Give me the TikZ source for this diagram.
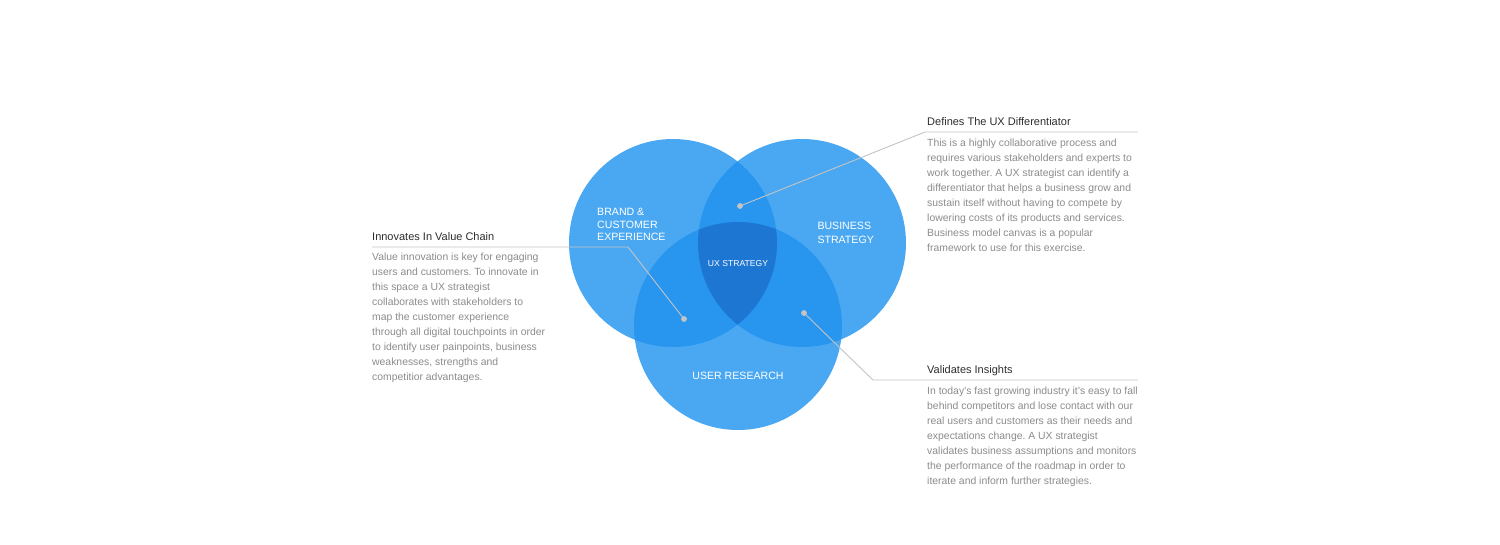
\documentclass[tikz,border=0pt]{standalone}
\usepackage{fontspec}
\setmainfont{Liberation Sans}
\frenchspacing
\definecolor{cone}{HTML}{4AA8F2}
\definecolor{ctwo}{HTML}{2895EF}
\definecolor{cthree}{HTML}{1D76D2}
\definecolor{leader}{HTML}{C4C4C4}
\definecolor{bodygray}{HTML}{8C8C8C}
\definecolor{titlegray}{HTML}{2E2E2E}
\tikzset{
  dotmark/.style={circle, fill=leader, inner sep=0pt, minimum size=5.5pt},
  leaderline/.style={draw=leader, line width=0.9pt},
  ttl/.style={anchor=base west, inner sep=0pt, text=titlegray, font=\fontsize{11}{13}\selectfont},
  bodytext/.style={anchor=north west, inner sep=0pt, align=left, text=bodygray, font=\fontsize{10.4}{15}\selectfont\frenchspacing},
  circlabel/.style={inner sep=0pt, text=white, align=left, font=\fontsize{10.6}{12.4}\selectfont},
}
\begin{document}
\begin{tikzpicture}[x=1pt,y=-1pt]
\useasboundingbox (0,0) rectangle (1500,544);
\fill[white] (0,0) rectangle (1500,544);
% circles
\coordinate (cl) at (673,243);
\coordinate (cr) at (802,243);
\coordinate (cb) at (738,326);
\fill[cone] (cl) circle[radius=104pt];
\fill[cone] (cr) circle[radius=104pt];
\fill[cone] (cb) circle[radius=104pt];
\begin{scope}
  \clip (cl) circle[radius=104pt];
  \fill[ctwo] (cr) circle[radius=104pt];
  \fill[ctwo] (cb) circle[radius=104pt];
\end{scope}
\begin{scope}
  \clip (cr) circle[radius=104pt];
  \fill[ctwo] (cb) circle[radius=104pt];
\end{scope}
\begin{scope}
  \clip (cl) circle[radius=104pt];
  \clip (cr) circle[radius=104pt];
  \fill[cthree] (cb) circle[radius=104pt];
\end{scope}
% circle labels
\node[circlabel, anchor=north west] (lbrand) at (597,208.2) {BRAND \&\\CUSTOMER\\EXPERIENCE};
\node[circlabel, anchor=north west, font=\fontsize{10.6}{13.4}\selectfont] (lbiz) at (817.3,222) {BUSINESS\\STRATEGY};
\node[circlabel, anchor=base] (luser) at (738,379) {USER RESEARCH};
\node[circlabel, anchor=base, font=\fontsize{8.6}{10}\selectfont] (lux) at (738,266.7) {UX STRATEGY};
% dots
\node[dotmark] (dleft) at (684,319) {};
\node[dotmark] (dtop) at (740,206) {};
\node[dotmark] (dright) at (804,313) {};
% leader corner points
\coordinate (kleft) at (628,247);
\coordinate (eleft) at (372,247);
\coordinate (ktop) at (925,132);
\coordinate (etop) at (1138,132);
\coordinate (kright) at (873,380);
\coordinate (eright) at (1138,380);
\draw[leaderline] (dleft.center) -- (kleft) -- (eleft);
\draw[leaderline] (dtop.center) -- (ktop) -- (etop);
\draw[leaderline] (dright.center) -- (kright) -- (eright);
\node[dotmark] at (dleft) {};
\node[dotmark] at (dtop) {};
\node[dotmark] at (dright) {};
% left annotation
\node[ttl] (tleft) at (372,240) {Innovates In Value Chain};
\node[bodytext] (bleft) at (372,252.6) {Value innovation is key for engaging\\users and customers. To innovate in\\this space a UX strategist\\collaborates with stakeholders to\\map the customer experience\\through all digital touchpoints in order\\to identify user painpoints, business\\weaknesses, strengths and\\competitior advantages.};
% top right annotation
\node[ttl] (ttop) at (927,125.7) {Defines The UX Differentiator};
\node[bodytext] (btop) at (927,139.2) {This is a highly collaborative process and\\requires various stakeholders and experts to\\work together. A UX strategist can identify a\\differentiator that helps a business grow and\\sustain itself without having to compete by\\lowering costs of its products and services.\\Business model canvas is a popular\\framework to use for this exercise.};
% bottom right annotation
\node[ttl] (tright) at (927,373.3) {Validates Insights};
\node[bodytext] (bright) at (927,386.5) {In today’s fast growing industry it’s easy to fall\\behind competitors and lose contact with our\\real users and customers as their needs and\\expectations change. A UX strategist\\validates business assumptions and monitors\\the performance of the roadmap in order to\\iterate and inform further strategies.};
\end{tikzpicture}
\end{document}
